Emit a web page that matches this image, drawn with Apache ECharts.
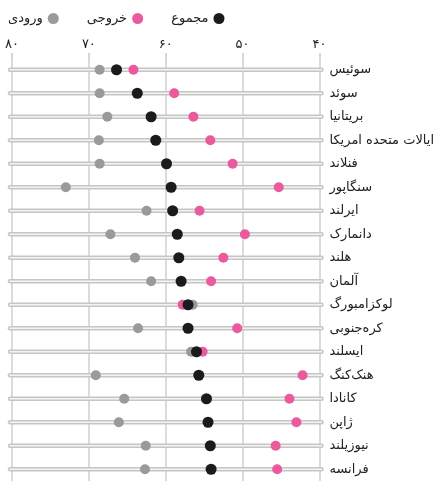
<!DOCTYPE html>
<html>
<head>
<meta charset="utf-8">
<script src="https://cdn.jsdelivr.net/npm/echarts@6/dist/echarts.min.js"></script>
<style>
  html, body { margin: 0; padding: 0; background: #fff; }
  #chart { width: 437px; height: 481px; }
</style>
</head>
<body>
<div id="chart"></div>
<script>
// کشورها، از بالا به پایین
const countries = ['سوئیس', 'سوئد', 'بریتانیا', 'ایالات متحده امریکا', 'فنلاند', 'سنگاپور',
  'ایرلند', 'دانمارک', 'هلند', 'آلمان', 'لوکزامبورگ', 'کره‌جنوبی', 'ایسلند',
  'هنک‌کنگ', 'کانادا', 'ژاپن', 'نیوزیلند', 'فرانسه'];
const inputScores = [68.6, 68.6, 67.6, 68.7, 68.6, 73.0, 62.5, 67.2, 64.0, 61.9, 56.5, 63.6, 56.7, 69.1, 65.4, 66.1, 62.6, 62.7];
const outputScores = [64.2, 58.9, 56.4, 54.2, 51.3, 45.3, 55.6, 49.7, 52.5, 54.1, 57.8, 50.7, 55.2, 42.2, 43.9, 43.0, 45.7, 45.5];
const totalScores = [66.4, 63.7, 61.9, 61.3, 59.9, 59.3, 59.1, 58.5, 58.3, 58.0, 57.1, 57.1, 56.0, 55.7, 54.7, 54.5, 54.2, 54.1];
const xTicks = [80, 70, 60, 50, 40];

const faDigits = '۰۱۲۳۴۵۶۷۸۹';
function toFa(n) {
  return String(n).replace(/\d/g, d => faDigits[d]);
}

const chart = echarts.init(document.getElementById('chart'));
const font = 'DejaVu Sans';

function pairs(vals) {
  return vals.map((v, i) => [v, countries[i]]);
}

const option = {
  backgroundColor: '#fff',
  animation: false,
  textStyle: { fontFamily: font },
  legend: {
    left: 3,
    top: 7,
    align: 'right',
    itemWidth: 11,
    itemHeight: 11,
    itemGap: 28,
    textStyle: { fontSize: 13, color: '#222', fontFamily: font },
    data: [
      { name: 'ورودی', icon: 'circle' },
      { name: 'خروجی', icon: 'circle' },
      { name: 'مجموع', icon: 'circle' }
    ]
  },
  grid: { left: 12, right: 116, top: 58, height: 427 },
  xAxis: {
    type: 'value',
    position: 'top',
    inverse: true,
    min: xTicks[xTicks.length - 1],
    max: xTicks[0],
    interval: 10,
    axisLine: { show: false },
    axisTick: { show: true, length: 5, lineStyle: { color: '#c8c8c8', width: 1.5 } },
    axisLabel: {
      margin: 7,
      fontSize: 13,
      color: '#222',
      fontFamily: font,
      formatter: v => toFa(v)
    },
    splitLine: { show: true, lineStyle: { color: '#cfcfcf', width: 1.5 } }
  },
  yAxis: {
    type: 'category',
    position: 'right',
    inverse: true,
    data: countries,
    axisLine: { show: false },
    axisTick: { show: false },
    splitLine: { show: false },
    axisLabel: { margin: 10, fontSize: 13, color: '#222', fontFamily: font }
  },
  series: [
    {
      type: 'custom',
      silent: true,
      clip: false,
      data: countries.map((c, i) => [i]),
      renderItem: function (params, api) {
        const a = api.coord([xTicks[0], params.dataIndex]);
        const b = api.coord([xTicks[xTicks.length - 1], params.dataIndex]);
        const shape = { x1: a[0] - 2, y1: a[1], x2: b[0] + 2, y2: b[1] };
        return {
          type: 'group',
          children: [
            { type: 'line', shape: shape, style: { stroke: '#c6c6c6', lineWidth: 4.5, lineCap: 'round' } },
            { type: 'line', shape: shape, style: { stroke: '#f3f3f3', lineWidth: 1.5, lineCap: 'round' } }
          ]
        };
      }
    },
    {
      name: 'ورودی',
      type: 'scatter',
      symbolSize: 10,
      itemStyle: { color: '#999a9c', opacity: 1 },
      data: pairs(inputScores)
    },
    {
      name: 'خروجی',
      type: 'scatter',
      symbolSize: 10,
      itemStyle: { color: '#ec5a9e', opacity: 1 },
      data: pairs(outputScores)
    },
    {
      name: 'مجموع',
      type: 'scatter',
      symbolSize: 11,
      itemStyle: { color: '#1b1b1b', opacity: 1 },
      data: pairs(totalScores)
    }
  ]
};

chart.setOption(option);
</script>
</body>
</html>
